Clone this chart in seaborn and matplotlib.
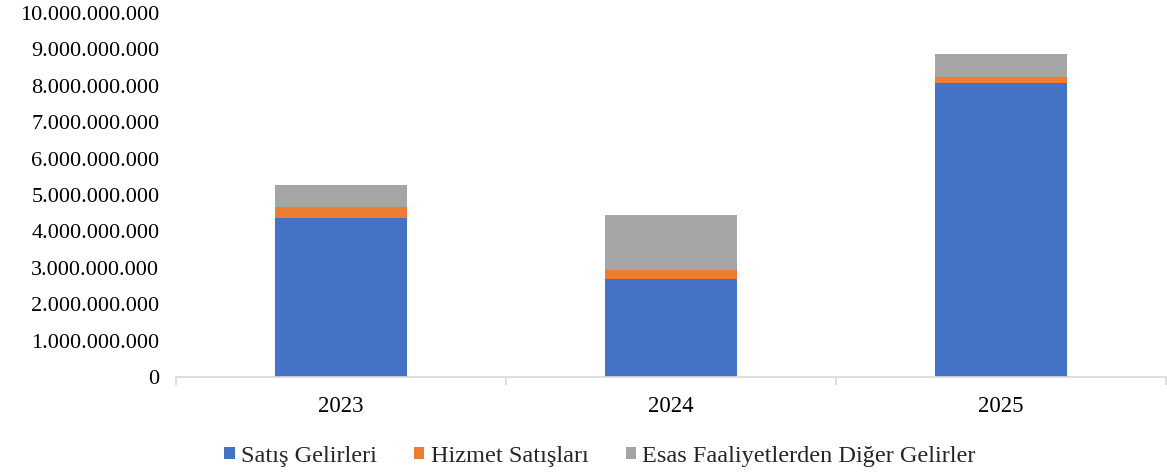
import matplotlib
matplotlib.use("Agg")
import matplotlib.pyplot as plt
import seaborn as sns
import pandas as pd
import numpy as np
from matplotlib.ticker import FuncFormatter, FixedLocator
from matplotlib.patches import Patch

years = ["2023", "2024", "2025"]
satis = [4.36e9, 2.70e9, 8.07e9]
hizmet = [0.31e9, 0.25e9, 0.17e9]
diger = [0.60e9, 1.49e9, 0.63e9]
series_names = ["Satış Gelirleri", "Hizmet Satışları", "Esas Faaliyetlerden Diğer Gelirler"]
colors = ["#4472C4", "#ED7D31", "#A5A5A5"]

sns.set_theme(style="white")
plt.rcParams["font.family"] = ["Liberation Serif", "DejaVu Serif"]

df = pd.DataFrame({"year": years, "satis": satis, "hizmet": hizmet, "diger": diger})
df["c1"] = df["satis"]
df["c2"] = df["satis"] + df["hizmet"]
df["c3"] = df["c2"] + df["diger"]

fig = plt.figure(figsize=(11.67, 4.73), dpi=100)
ax = fig.add_axes([176/1167, 96/473, 990/1167, 364/473])

for col, c in zip(["c3", "c2", "c1"], colors[::-1]):
    sns.barplot(data=df, x="year", y=col, color=c, width=0.4, ax=ax,
                saturation=1, linewidth=0, errorbar=None)

ax.set_ylim(0, 1e10)
ax.set_xlim(-0.5, 2.5)
ax.yaxis.set_major_locator(FixedLocator(np.arange(0, 1e10 + 1, 1e9)))
ax.yaxis.set_major_formatter(FuncFormatter(lambda v, p: f"{int(round(v)):,}".replace(",", ".")))
ax.set_xlabel("")
ax.set_ylabel("")
for s in ["top", "right", "left"]:
    ax.spines[s].set_visible(False)
ax.spines["bottom"].set_color("#D9D9D9")
ax.spines["bottom"].set_linewidth(1.2)
ax.xaxis.set_minor_locator(FixedLocator([-0.5, 0.5, 1.5, 2.5]))
ax.tick_params(axis="x", which="major", length=0, pad=14, labelsize=16.5, colors="black")
ax.tick_params(axis="x", which="minor", length=6, width=1.2, color="#D9D9D9", bottom=True)
ax.tick_params(axis="y", length=0, pad=12, labelsize=16, colors="black")

handles = [Patch(facecolor=c, edgecolor="none") for c in colors]
fig.legend(handles, series_names, loc="center", bbox_to_anchor=(600/1167, 17/473),
           ncol=3, frameon=False, fontsize=17.5, handlelength=0.42, handleheight=0.42,
           handletextpad=0.25, columnspacing=1.55)

fig.savefig("out.png", dpi=100)
